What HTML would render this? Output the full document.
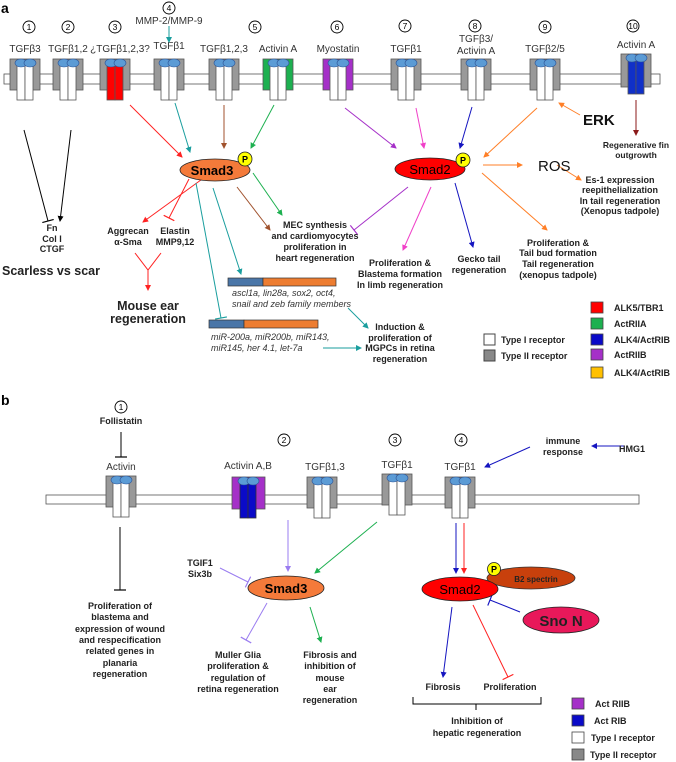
<!DOCTYPE html>
<html><head><meta charset="utf-8"><style>
html,body{margin:0;padding:0;background:#fff}
svg{display:block}
text{font-family:"Liberation Sans",Arial,sans-serif}
.l{font-size:10px;fill:#333}
.b{font-size:9px;font-weight:bold;fill:#222}
.i{font-size:9px;font-style:italic;fill:#333}
</style></head><body>
<svg width="676" height="762" viewBox="0 0 676 762" xmlns="http://www.w3.org/2000/svg">
<defs>
<symbol id="rg" overflow="visible">
 <rect x="-15" y="-1" width="30" height="31" fill="#999" stroke="#555" stroke-width="0.8"/>
 <rect x="-8" y="0" width="8" height="40" fill="#fff" stroke="#555" stroke-width="0.8"/>
 <rect x="0" y="0" width="8" height="40" fill="#fff" stroke="#555" stroke-width="0.8"/>
 <ellipse cx="-4" cy="3" rx="6" ry="4" fill="#5B9BD5" stroke="#2F5597" stroke-width="0.6"/>
 <ellipse cx="5" cy="3" rx="6" ry="4" fill="#5B9BD5" stroke="#2F5597" stroke-width="0.6"/>
</symbol>
</defs>
<defs>
 <marker id="aK" markerWidth="6" markerHeight="6" refX="5" refY="3" orient="auto" markerUnits="userSpaceOnUse"><path d="M0,0L6,3L0,6z" fill="#000"/></marker>
 <marker id="tK" markerWidth="2" markerHeight="12" refX="1" refY="6" orient="auto" markerUnits="userSpaceOnUse"><path d="M1,0V12" stroke="#000" stroke-width="1.2"/></marker>
 <marker id="aR" markerWidth="6" markerHeight="6" refX="5" refY="3" orient="auto" markerUnits="userSpaceOnUse"><path d="M0,0L6,3L0,6z" fill="#F22"/></marker>
 <marker id="tR" markerWidth="2" markerHeight="12" refX="1" refY="6" orient="auto" markerUnits="userSpaceOnUse"><path d="M1,0V12" stroke="#F22" stroke-width="1.2"/></marker>
 <marker id="aT" markerWidth="6" markerHeight="6" refX="5" refY="3" orient="auto" markerUnits="userSpaceOnUse"><path d="M0,0L6,3L0,6z" fill="#1A9E9E"/></marker>
 <marker id="tT" markerWidth="2" markerHeight="12" refX="1" refY="6" orient="auto" markerUnits="userSpaceOnUse"><path d="M1,0V12" stroke="#1A9E9E" stroke-width="1.2"/></marker>
 <marker id="aBr" markerWidth="6" markerHeight="6" refX="5" refY="3" orient="auto" markerUnits="userSpaceOnUse"><path d="M0,0L6,3L0,6z" fill="#A0522D"/></marker>
 <marker id="aG" markerWidth="6" markerHeight="6" refX="5" refY="3" orient="auto" markerUnits="userSpaceOnUse"><path d="M0,0L6,3L0,6z" fill="#1DB050"/></marker>
 <marker id="aP" markerWidth="6" markerHeight="6" refX="5" refY="3" orient="auto" markerUnits="userSpaceOnUse"><path d="M0,0L6,3L0,6z" fill="#A530C8"/></marker>
 <marker id="tP" markerWidth="2" markerHeight="12" refX="1" refY="6" orient="auto" markerUnits="userSpaceOnUse"><path d="M1,0V12" stroke="#A530C8" stroke-width="1.2"/></marker>
 <marker id="aPk" markerWidth="6" markerHeight="6" refX="5" refY="3" orient="auto" markerUnits="userSpaceOnUse"><path d="M0,0L6,3L0,6z" fill="#F040C8"/></marker>
 <marker id="aB" markerWidth="6" markerHeight="6" refX="5" refY="3" orient="auto" markerUnits="userSpaceOnUse"><path d="M0,0L6,3L0,6z" fill="#1515C0"/></marker>
 <marker id="tB" markerWidth="2" markerHeight="12" refX="1" refY="6" orient="auto" markerUnits="userSpaceOnUse"><path d="M1,0V12" stroke="#1515C0" stroke-width="1.2"/></marker>
 <marker id="aO" markerWidth="6" markerHeight="6" refX="5" refY="3" orient="auto" markerUnits="userSpaceOnUse"><path d="M0,0L6,3L0,6z" fill="#FF7F27"/></marker>
 <marker id="aD" markerWidth="6" markerHeight="6" refX="5" refY="3" orient="auto" markerUnits="userSpaceOnUse"><path d="M0,0L6,3L0,6z" fill="#8B1A1A"/></marker>
 <marker id="aL" markerWidth="6" markerHeight="6" refX="5" refY="3" orient="auto" markerUnits="userSpaceOnUse"><path d="M0,0L6,3L0,6z" fill="#9A7CF0"/></marker>
 <marker id="tL" markerWidth="2" markerHeight="12" refX="1" refY="6" orient="auto" markerUnits="userSpaceOnUse"><path d="M1,0V12" stroke="#9A7CF0" stroke-width="1.2"/></marker>
</defs>

<text x="1" y="13" font-size="14" font-weight="bold">a</text>
<rect x="4" y="74" width="656" height="10" fill="#fff" stroke="#555" stroke-width="0.8"/>
<g class="l" text-anchor="middle">
<text x="25" y="52">TGFβ3</text><text x="68" y="52">TGFβ1,2</text><text x="120" y="52">¿TGFβ1,2,3?</text>
<text x="169" y="49">TGFβ1</text><text x="224" y="52">TGFβ1,2,3</text><text x="278" y="52">Activin A</text>
<text x="338" y="52">Myostatin</text><text x="406" y="52">TGFβ1</text>
<text x="476" y="42">TGFβ3/</text><text x="476" y="54">Activin A</text><text x="545" y="52">TGFβ2/5</text>
<text x="636" y="48">Activin A</text>
<text x="169" y="24">MMP-2/MMP-9</text>
</g>
<g fill="none" stroke="#000" stroke-width="0.9">
<circle cx="29" cy="27" r="6"/><circle cx="68" cy="27" r="6"/><circle cx="115" cy="27" r="6"/><circle cx="169" cy="8" r="6"/>
<circle cx="255" cy="27" r="6"/><circle cx="337" cy="27" r="6"/><circle cx="405" cy="26" r="6"/><circle cx="475" cy="26" r="6"/>
<circle cx="545" cy="27" r="6"/><circle cx="633" cy="26" r="6"/>
</g>
<g font-size="8.5" text-anchor="middle" font-family="Liberation Sans">
<text x="29" y="30">1</text><text x="68" y="30">2</text><text x="115" y="30">3</text><text x="169" y="11">4</text>
<text x="255" y="30">5</text><text x="337" y="30">6</text><text x="405" y="29">7</text><text x="475" y="29">8</text>
<text x="545" y="30">9</text><text x="633" y="29">10</text>
</g>
<use href="#rg" x="25" y="60"/><use href="#rg" x="68" y="60"/>
<g transform="translate(115,60)">
<rect x="-15" y="-1" width="30" height="31" fill="#999" stroke="#555" stroke-width="0.8"/>
<rect x="-8" y="0" width="8" height="40" fill="#F00" stroke="#555" stroke-width="0.8"/><rect x="0" y="0" width="8" height="40" fill="#F00" stroke="#555" stroke-width="0.8"/>
<ellipse cx="-4" cy="3" rx="6" ry="4" fill="#5B9BD5" stroke="#2F5597" stroke-width="0.6"/><ellipse cx="5" cy="3" rx="6" ry="4" fill="#5B9BD5" stroke="#2F5597" stroke-width="0.6"/>
</g>
<use href="#rg" x="169" y="60"/><use href="#rg" x="224" y="60"/>
<g transform="translate(278,60)">
<rect x="-15" y="-1" width="30" height="31" fill="#1DB050" stroke="#555" stroke-width="0.8"/>
<rect x="-8" y="0" width="8" height="40" fill="#fff" stroke="#555" stroke-width="0.8"/><rect x="0" y="0" width="8" height="40" fill="#fff" stroke="#555" stroke-width="0.8"/>
<ellipse cx="-4" cy="3" rx="6" ry="4" fill="#5B9BD5" stroke="#2F5597" stroke-width="0.6"/><ellipse cx="5" cy="3" rx="6" ry="4" fill="#5B9BD5" stroke="#2F5597" stroke-width="0.6"/>
</g>
<g transform="translate(338,60)">
<rect x="-15" y="-1" width="30" height="31" fill="#A530C8" stroke="#555" stroke-width="0.8"/>
<rect x="-8" y="0" width="8" height="40" fill="#fff" stroke="#555" stroke-width="0.8"/><rect x="0" y="0" width="8" height="40" fill="#fff" stroke="#555" stroke-width="0.8"/>
<ellipse cx="-4" cy="3" rx="6" ry="4" fill="#5B9BD5" stroke="#2F5597" stroke-width="0.6"/><ellipse cx="5" cy="3" rx="6" ry="4" fill="#5B9BD5" stroke="#2F5597" stroke-width="0.6"/>
</g>
<use href="#rg" x="406" y="60"/><use href="#rg" x="476" y="60"/><use href="#rg" x="545" y="60"/>
<g transform="translate(636,55)">
<rect x="-15" y="-1" width="30" height="33" fill="#999" stroke="#555" stroke-width="0.8"/>
<rect x="-8" y="0" width="8" height="39" fill="#1030C8" stroke="#555" stroke-width="0.8"/><rect x="0" y="0" width="8" height="39" fill="#1030C8" stroke="#555" stroke-width="0.8"/>
<ellipse cx="-4" cy="3" rx="6" ry="4" fill="#5B9BD5" stroke="#2F5597" stroke-width="0.6"/><ellipse cx="5" cy="3" rx="6" ry="4" fill="#5B9BD5" stroke="#2F5597" stroke-width="0.6"/>
</g>
<line x1="169" y1="26" x2="169" y2="42" stroke="#1A9E9E" marker-end="url(#aT)"/>

<g fill="none" stroke-width="1">
<line x1="24" y1="130" x2="48" y2="221" stroke="#000" marker-end="url(#tK)"/>
<line x1="71" y1="130" x2="60" y2="221" stroke="#000" marker-end="url(#aK)"/>
<line x1="130" y1="105" x2="182" y2="157" stroke="#F22" marker-end="url(#aR)"/>
<line x1="175" y1="103" x2="190" y2="152" stroke="#1A9E9E" marker-end="url(#aT)"/>
<line x1="224" y1="105" x2="224" y2="148" stroke="#A0522D" marker-end="url(#aBr)"/>
<line x1="274" y1="105" x2="251" y2="148" stroke="#1DB050" marker-end="url(#aG)"/>
<line x1="205" y1="177" x2="143" y2="222" stroke="#F22" marker-end="url(#aR)"/>
<line x1="189" y1="179" x2="169" y2="218" stroke="#F22" marker-end="url(#tR)"/>
<polyline points="135,253 148,270 161,253" stroke="#F22"/>
<line x1="148" y1="270" x2="148" y2="290" stroke="#F22" marker-end="url(#aR)"/>
<line x1="253" y1="173" x2="282" y2="215" stroke="#1DB050" marker-end="url(#aG)"/>
<line x1="237" y1="187" x2="270" y2="230" stroke="#A0522D" marker-end="url(#aBr)"/>
<line x1="213" y1="188" x2="241" y2="274" stroke="#1A9E9E" marker-end="url(#aT)"/>
<line x1="196" y1="183" x2="221" y2="318" stroke="#1A9E9E" marker-end="url(#tT)"/>
<line x1="348" y1="308" x2="368" y2="328" stroke="#1A9E9E" marker-end="url(#aT)"/>
<line x1="323" y1="348" x2="361" y2="348" stroke="#1A9E9E" marker-end="url(#aT)"/>
<line x1="345" y1="108" x2="396" y2="148" stroke="#A530C8" marker-end="url(#aP)"/>
<line x1="416" y1="108" x2="424" y2="148" stroke="#F040C8" marker-end="url(#aPk)"/>
<line x1="472" y1="107" x2="460" y2="148" stroke="#1515C0" marker-end="url(#aB)"/>
<line x1="537" y1="108" x2="484" y2="157" stroke="#FF7F27" marker-end="url(#aO)"/>
<line x1="580" y1="115" x2="559" y2="103" stroke="#FF7F27" marker-end="url(#aO)"/>
<line x1="636" y1="100" x2="636" y2="135" stroke="#8B1A1A" marker-end="url(#aD)"/>
<line x1="483" y1="165" x2="522" y2="165" stroke="#FF7F27" marker-end="url(#aO)"/>
<line x1="557" y1="165" x2="581" y2="180" stroke="#FF7F27" marker-end="url(#aO)"/>
<line x1="408" y1="187" x2="354" y2="230" stroke="#A530C8" marker-end="url(#tP)"/>
<line x1="431" y1="187" x2="403" y2="250" stroke="#F040C8" marker-end="url(#aPk)"/>
<line x1="455" y1="183" x2="473" y2="247" stroke="#1515C0" marker-end="url(#aB)"/>
<line x1="482" y1="173" x2="547" y2="230" stroke="#FF7F27" marker-end="url(#aO)"/>
</g>

<ellipse cx="215" cy="170" rx="35" ry="11" fill="#F47A3A" stroke="#222" stroke-width="0.8"/>
<text x="212" y="175" font-size="13" font-weight="bold" text-anchor="middle">Smad3</text>
<circle cx="245" cy="159" r="7" fill="#FF0" stroke="#222" stroke-width="0.8"/><text x="245" y="162.5" font-size="9" font-weight="bold" text-anchor="middle">P</text>
<ellipse cx="430" cy="169" rx="35" ry="11" fill="#F00" stroke="#222" stroke-width="0.8"/>
<text x="430" y="174" font-size="13" text-anchor="middle">Smad2</text>
<circle cx="463" cy="160" r="7" fill="#FF0" stroke="#222" stroke-width="0.8"/><text x="463" y="163.5" font-size="9" font-weight="bold" text-anchor="middle">P</text>

<g class="b" text-anchor="middle">
<text x="52" y="231">Fn</text><text x="52" y="242">Col I</text><text x="52" y="252">CTGF</text>
<text x="128" y="234">Aggrecan</text><text x="128" y="245">α-Sma</text>
<text x="175" y="234">Elastin</text><text x="175" y="245">MMP9,12</text>
<text x="315" y="228">MEC synthesis</text><text x="315" y="239">and cardiomyocytes</text><text x="315" y="250">proliferation in</text><text x="315" y="261">heart regeneration</text>
<text x="400" y="330">Induction &amp;</text><text x="400" y="341">proliferation of</text><text x="400" y="351">MGPCs in retina</text><text x="400" y="362">regeneration</text>
<text x="400" y="266">Proliferation &amp;</text><text x="400" y="277">Blastema formation</text><text x="400" y="288">In limb regeneration</text>
<text x="479" y="262">Gecko tail</text><text x="479" y="273">regeneration</text>
<text x="558" y="246">Proliferation &amp;</text><text x="558" y="256">Tail bud formation</text><text x="558" y="267">Tail regeneration</text><text x="558" y="278">(xenopus tadpole)</text>
<text x="620" y="183">Es-1 expression</text><text x="620" y="193">reepithelialization</text><text x="620" y="204">In tail regeneration</text><text x="620" y="214">(Xenopus tadpole)</text>
<text x="636" y="148" font-size="8.5">Regenerative fin</text><text x="636" y="158" font-size="8.5">outgrowth</text>
</g>
<text x="51" y="275" font-size="12.5" font-weight="bold" text-anchor="middle" fill="#222">Scarless vs scar</text>
<text x="148" y="310" font-size="12.5" font-weight="bold" text-anchor="middle" fill="#222">Mouse ear</text>
<text x="148" y="323" font-size="12.5" font-weight="bold" text-anchor="middle" fill="#222">regeneration</text>
<text x="538" y="171" font-size="15" fill="#111">ROS</text>
<text x="583" y="125" font-size="15" font-weight="bold" fill="#111">ERK</text>

<rect x="228" y="278" width="35" height="8" fill="#4A76A8" stroke="#333" stroke-width="0.7"/><rect x="263" y="278" width="73" height="8" fill="#ED7D31" stroke="#333" stroke-width="0.7"/>
<text x="232" y="296" class="i">ascl1a, lin28a, sox2, oct4,</text><text x="232" y="307" class="i">snail and zeb family members</text>
<rect x="209" y="320" width="35" height="8" fill="#4A76A8" stroke="#333" stroke-width="0.7"/><rect x="244" y="320" width="74" height="8" fill="#ED7D31" stroke="#333" stroke-width="0.7"/>
<text x="211" y="340" class="i">miR-200a, miR200b, miR143,</text><text x="211" y="351" class="i">miR145, her 4.1, let-7a</text>

<rect x="484" y="334" width="11" height="11" fill="#fff" stroke="#444"/><text x="501" y="343" class="b">Type I receptor</text>
<rect x="484" y="350" width="11" height="11" fill="#888" stroke="#444"/><text x="501" y="359" class="b">Type II receptor</text>
<g stroke="#444" stroke-width="0.8">
<rect x="591" y="302" width="12" height="11" fill="#F00"/><rect x="591" y="318" width="12" height="11" fill="#1DB050"/>
<rect x="591" y="334" width="12" height="11" fill="#0A0AC8"/><rect x="591" y="349" width="12" height="11" fill="#A530C8"/>
<rect x="591" y="367" width="12" height="11" fill="#FFC000"/>
</g>
<g class="b"><text x="614" y="311">ALK5/TBR1</text><text x="614" y="327">ActRIIA</text><text x="614" y="343">ALK4/ActRIB</text><text x="614" y="358">ActRIIB</text><text x="614" y="376">ALK4/ActRIB</text></g>

<text x="1" y="405" font-size="14" font-weight="bold">b</text>
<rect x="46" y="495" width="593" height="9" fill="#fff" stroke="#555" stroke-width="0.8"/>
<g fill="none" stroke="#000" stroke-width="0.9"><circle cx="121" cy="407" r="6"/><circle cx="284" cy="440" r="6"/><circle cx="395" cy="440" r="6"/><circle cx="461" cy="440" r="6"/></g>
<g font-size="8.5" text-anchor="middle"><text x="121" y="410">1</text><text x="284" y="443">2</text><text x="395" y="443">3</text><text x="461" y="443">4</text></g>
<g class="l" text-anchor="middle"><text x="121" y="470">Activin</text><text x="248" y="469">Activin A,B</text><text x="325" y="470">TGFβ1,3</text><text x="397" y="468">TGFβ1</text><text x="460" y="470">TGFβ1</text></g>
<use href="#rg" x="121" y="477"/>
<g transform="translate(248,478)">
<rect x="-16" y="-1" width="33" height="32" fill="#A530C8" stroke="#555" stroke-width="0.8"/>
<rect x="-8" y="0" width="8" height="40" fill="#0A0AC8" stroke="#333" stroke-width="0.8"/><rect x="0" y="0" width="8" height="40" fill="#0A0AC8" stroke="#333" stroke-width="0.8"/>
<ellipse cx="-4" cy="3" rx="6" ry="4" fill="#5B9BD5" stroke="#2F5597" stroke-width="0.6"/><ellipse cx="5" cy="3" rx="6" ry="4" fill="#5B9BD5" stroke="#2F5597" stroke-width="0.6"/>
</g>
<use href="#rg" x="322" y="478"/><use href="#rg" x="397" y="475"/><use href="#rg" x="460" y="478"/>

<g fill="none" stroke-width="1">
<line x1="121" y1="432" x2="121" y2="457" stroke="#000" marker-end="url(#tK)"/>
<line x1="120" y1="527" x2="120" y2="590" stroke="#000" marker-end="url(#tK)"/>
<line x1="288" y1="520" x2="288" y2="571" stroke="#9A7CF0" marker-end="url(#aL)"/>
<line x1="377" y1="522" x2="315" y2="573" stroke="#1DB050" marker-end="url(#aG)"/>
<line x1="220" y1="568" x2="248" y2="582" stroke="#9A7CF0" marker-end="url(#tL)"/>
<line x1="267" y1="603" x2="246" y2="640" stroke="#9A7CF0" marker-end="url(#tL)"/>
<line x1="310" y1="607" x2="321" y2="642" stroke="#1DB050" marker-end="url(#aG)"/>
<line x1="456" y1="523" x2="456" y2="573" stroke="#1515C0" marker-end="url(#aB)"/>
<line x1="464" y1="523" x2="464" y2="573" stroke="#F22" marker-end="url(#aR)"/>
<line x1="520" y1="612" x2="490" y2="600" stroke="#1515C0" marker-end="url(#tB)"/>
<line x1="452" y1="607" x2="443" y2="677" stroke="#1515C0" marker-end="url(#aB)"/>
<line x1="473" y1="605" x2="508" y2="677" stroke="#F22" marker-end="url(#tR)"/>
<line x1="624" y1="446" x2="592" y2="446" stroke="#1515C0" marker-end="url(#aB)"/>
<line x1="530" y1="447" x2="485" y2="467" stroke="#1515C0" marker-end="url(#aB)"/>
<polyline points="413,697 413,704 541,704 541,697" stroke="#000"/>
<line x1="476" y1="704" x2="476" y2="710" stroke="#000"/>
</g>

<ellipse cx="286" cy="588" rx="38" ry="12" fill="#F47A3A" stroke="#222" stroke-width="0.8"/>
<text x="286" y="593" font-size="13" font-weight="bold" text-anchor="middle">Smad3</text>
<ellipse cx="531" cy="578" rx="44" ry="11" fill="#C8400C" stroke="#333" stroke-width="0.8"/>
<text x="536" y="582" font-size="8" font-weight="bold" text-anchor="middle" fill="#222">B2 spectrin</text>
<ellipse cx="460" cy="589" rx="38" ry="12" fill="#F00" stroke="#222" stroke-width="0.8"/>
<text x="460" y="594" font-size="13" text-anchor="middle">Smad2</text>
<circle cx="494" cy="569" r="6.5" fill="#FF0" stroke="#222" stroke-width="0.8"/><text x="494" y="572.5" font-size="9" font-weight="bold" text-anchor="middle">P</text>
<ellipse cx="561" cy="620" rx="38" ry="13" fill="#E8185A" stroke="#222" stroke-width="0.8"/>
<text x="561" y="626" font-size="15" font-weight="bold" text-anchor="middle" fill="#222">Sno N</text>

<g class="b" text-anchor="middle">
<text x="121" y="424">Follistatin</text>
<text x="120" y="609">Proliferation of</text><text x="120" y="620">blastema and</text><text x="120" y="632">expression of wound</text><text x="120" y="643">and respecification</text><text x="120" y="654">related genes in</text><text x="120" y="666">planaria</text><text x="120" y="677">regeneration</text>
<text x="200" y="566">TGIF1</text><text x="200" y="577">Six3b</text>
<text x="238" y="658">Muller Glia</text><text x="238" y="669">proliferation  &amp;</text><text x="238" y="681">regulation of</text><text x="238" y="692">retina regeneration</text>
<text x="330" y="658">Fibrosis and</text><text x="330" y="669">inhibition of</text><text x="330" y="681">mouse</text><text x="330" y="692">ear</text><text x="330" y="703">regeneration</text>
<text x="443" y="690">Fibrosis</text><text x="510" y="690">Proliferation</text>
<text x="477" y="724">Inhibition of</text><text x="477" y="736">hepatic regeneration</text>
<text x="563" y="444">immune</text><text x="563" y="455">response</text>
<text x="632" y="452">HMG1</text>
</g>
<g stroke="#444" stroke-width="0.8">
<rect x="572" y="698" width="12" height="11" fill="#A530C8"/><rect x="572" y="715" width="12" height="11" fill="#0A0AC8"/>
<rect x="572" y="732" width="12" height="11" fill="#fff"/><rect x="572" y="749" width="12" height="11" fill="#888"/>
</g>
<g class="b"><text x="595" y="707">Act RIIB</text><text x="594" y="724">Act RIB</text><text x="591" y="741">Type I receptor</text><text x="590" y="758">Type II receptor</text></g>
</svg>
</body></html>
